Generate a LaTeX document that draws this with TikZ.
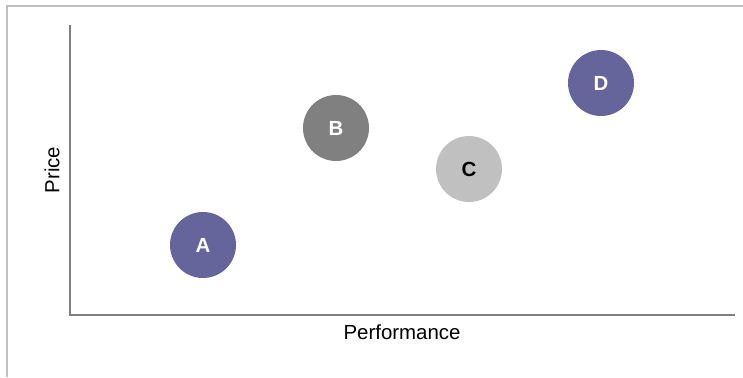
\documentclass[tikz,border=0pt]{standalone}
\usepackage{fontspec}
\setmainfont{Liberation Sans}
\begin{document}
\begin{tikzpicture}[x=1bp,y=-1bp,
  bubble/.style={circle,minimum size=66bp,inner sep=0pt,font=\fontsize{20.5}{24}\selectfont\bfseries,text=white},
  dark/.style={bubble,fill=purpleblue},
  axis/.style={draw=axisgray,line width=1.2bp},
  lbl/.style={font=\fontsize{20.5}{24}\selectfont,text=black}]
\definecolor{purpleblue}{HTML}{65659B}
\definecolor{axisgray}{HTML}{808080}
\definecolor{framegray}{HTML}{BEBEBE}
\useasboundingbox (0,0) rectangle (743,377);
% outer frame
\coordinate (f1) at (7,377);
\coordinate (f2) at (7,6);
\coordinate (f3) at (743,6);
\draw[framegray,line width=1.6bp] (f1) -- (f2) -- (f3);
% axes
\coordinate (ytop) at (70,25);
\coordinate (origin) at (70,315);
\coordinate (xend) at (735,315);
\draw[axis] (ytop) -- (origin) -- (xend);
% labels
\node[lbl,rotate=90] (price) at (52,170) {Price};
\node[lbl] (perf) at (402,332) {Performance};
% bubbles
\node[dark] (A) at (203,245) {A};
\node[bubble,fill=axisgray] (B) at (336,128) {B};
\node[bubble,fill={rgb,255:red,192;green,192;blue,192},text=black] (C) at (469,169) {C};
\node[dark] (D) at (601,83) {D};
\end{tikzpicture}
\end{document}
